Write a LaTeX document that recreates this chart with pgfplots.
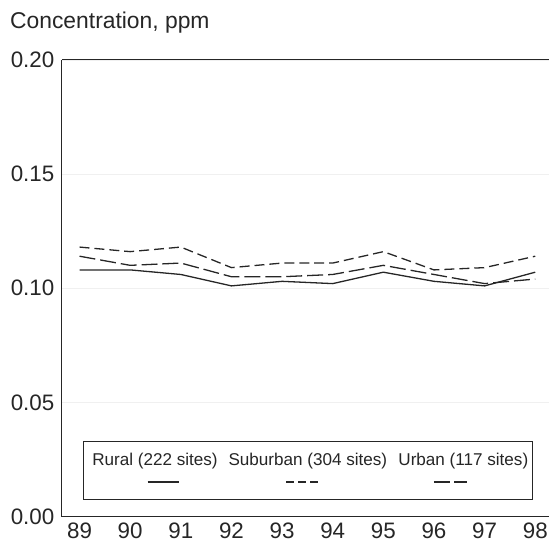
\documentclass[border=0pt]{standalone}
\usepackage{pgfplots}
\pgfplotsset{compat=1.18}
\usepackage{fontspec}
\setmainfont{Liberation Sans}
\definecolor{ln}{HTML}{262626}
\begin{document}
\begin{tikzpicture}
\begin{axis}[
  name=ax,
  scale only axis,
  width=489bp, height=458bp,
  xmin=88.65, xmax=98.28,
  ymin=0, ymax=0.2,
  axis x line=box, axis y line=left,
  axis line style={-, draw=ln, line width=1.2bp},
  major tick length=0pt,
  xtick={89,...,98},
  ytick={0,0.05,0.1,0.15,0.2},
  ymajorgrids,
  grid style={color=black!6, line width=0.6bp},
  /pgf/number format/assume math mode=true,
  yticklabel style={/pgf/number format/fixed, /pgf/number format/fixed zerofill, /pgf/number format/precision=2, font=\fontsize{22.5}{25}\selectfont, xshift=-4bp, text=ln},
  xticklabel style={font=\fontsize{22.5}{25}\selectfont, yshift=-3bp, text=ln},
  scaled y ticks=false,
  clip=false,
]
\addplot[ln, line width=1.3bp] coordinates {(89,0.108) (90,0.108) (91,0.106) (92,0.101) (93,0.103) (94,0.102) (95,0.107) (96,0.103) (97,0.101) (98,0.107)};
\addplot[ln, line width=1.3bp, dash pattern=on 10bp off 5bp] coordinates {(89,0.118) (90,0.116) (91,0.118) (92,0.109) (93,0.111) (94,0.111) (95,0.116) (96,0.108) (97,0.109) (98,0.114)};
\addplot[ln, line width=1.3bp, dash pattern=on 16bp off 5bp] coordinates {(89,0.114) (90,0.110) (91,0.111) (92,0.105) (93,0.105) (94,0.106) (95,0.110) (96,0.106) (97,0.102) (98,0.104)};
% legend box
\draw[ln, line width=1bp, fill=white] (axis cs:89.08,0.00742) rectangle (axis cs:97.94,0.0328);
\node[font=\fontsize{17.2}{20}\selectfont, text=ln] at (axis cs:90.49,0.0245) {Rural (222 sites)};
\node[font=\fontsize{17.2}{20}\selectfont, text=ln] at (axis cs:93.51,0.0245) {Suburban (304 sites)};
\node[font=\fontsize{17.2}{20}\selectfont, text=ln] at (axis cs:96.58,0.0245) {Urban (117 sites)};
\draw[ln, line width=1.3bp] (axis cs:90.345,0.01515) -- (axis cs:90.97,0.01515);
\draw[ln, line width=1.3bp, dash pattern=on 7.5bp off 4.5bp] (axis cs:93.08,0.01515) -- (axis cs:93.77,0.01515);
\draw[ln, line width=1.3bp, dash pattern=on 16bp off 4.5bp] (axis cs:96.0,0.01515) -- (axis cs:96.65,0.01515);
\end{axis}
\node[anchor=west, font=\fontsize{23}{26}\selectfont, text=ln, inner sep=0pt] at ([xshift=-52bp, yshift=37bp]ax.north west) {Concentration, ppm};
\path ([xshift=-62bp, yshift=-28bp]ax.south west) rectangle ([yshift=60bp]ax.north east);
\end{tikzpicture}
\end{document}
